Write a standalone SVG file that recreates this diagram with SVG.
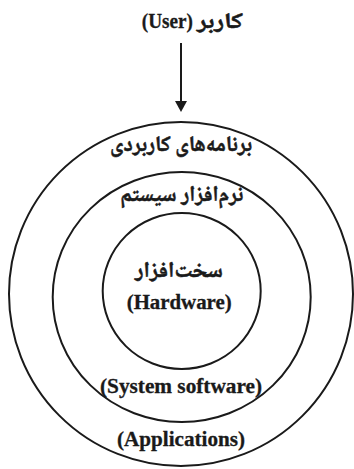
<svg xmlns="http://www.w3.org/2000/svg" width="354" height="469" viewBox="0 0 354 469">
<style>
.ring{fill:none;stroke:#1a1a1a;stroke-width:2}
.lat{font-family:"Liberation Serif","Times New Roman",serif;font-weight:bold;font-size:20px;fill:#1a1a1a;stroke:#1a1a1a;stroke-width:0.3;text-anchor:middle}
.ar{font-family:"Noto Naskh Arabic","Noto Sans Arabic","DejaVu Sans",sans-serif;font-weight:bold;font-size:22px;fill:#1a1a1a;stroke:#1a1a1a;stroke-width:0.5;text-anchor:middle;direction:rtl}
.conn{stroke:#1a1a1a;stroke-width:2;fill:none}
</style>
<defs>
<marker id="ah" viewBox="0 0 11 12" refX="3" refY="6" markerWidth="11" markerHeight="12" markerUnits="userSpaceOnUse" orient="auto">
<path d="M0,0 L11,6 L0,12 Z" fill="#1a1a1a"/>
</marker>
</defs>
<rect width="354" height="469" fill="#ffffff"/>
<g id="applications">
<ellipse class="ring" cx="181" cy="294" rx="172" ry="172"/>
<text class="ar" x="181" y="151" textLength="142" lengthAdjust="spacingAndGlyphs">برنامه‌های کاربردی</text>
<text class="lat" x="181" y="446" textLength="128" lengthAdjust="spacingAndGlyphs">(Applications)</text>
</g>
<g id="system-software">
<ellipse class="ring" cx="181.7" cy="297" rx="129" ry="125"/>
<text class="ar" x="181.7" y="201" textLength="123" lengthAdjust="spacingAndGlyphs">نرم‌افزار سیستم</text>
<text class="lat" x="181" y="393" textLength="162" lengthAdjust="spacingAndGlyphs">(System software)</text>
</g>
<g id="hardware">
<ellipse class="ring" cx="181.7" cy="291" rx="79" ry="78"/>
<text class="ar" x="179" y="277" textLength="88" lengthAdjust="spacingAndGlyphs">سخت‌افزار</text>
<text class="lat" x="179.2" y="309" textLength="105" lengthAdjust="spacingAndGlyphs">(Hardware)</text>
</g>
<g id="user">
<text class="ar" x="220" y="28" textLength="46" lengthAdjust="spacingAndGlyphs">کاربر</text>
<text class="lat" x="167.3" y="28" textLength="51" lengthAdjust="spacingAndGlyphs">(User)</text>
</g>
<g id="connectors">
<path class="conn" d="M181,43 L181,104" marker-end="url(#ah)"/>
</g>
</svg>
